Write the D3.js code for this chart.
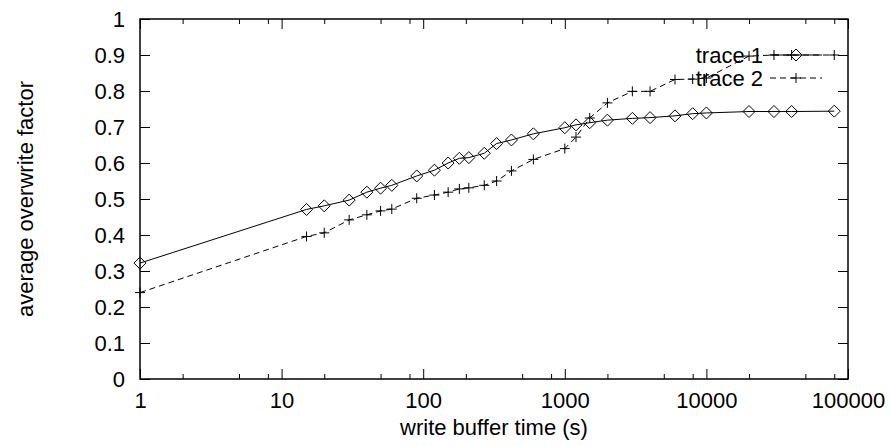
<!DOCTYPE html>
<html>
<head>
<meta charset="utf-8">
<script src="https://cdn.jsdelivr.net/npm/d3@7"></script>
<style>
  body { margin: 0; background: #fff; }
  text { font-family: "Liberation Sans", Arial, sans-serif; }
</style>
</head>
<body>
<script>
// data
const bufferTimes = [1, 15, 20, 30, 40, 50, 60, 90, 120, 150, 180, 210, 270, 330, 420, 600,
  1000, 1200, 1500, 2000, 3000, 4000, 6000, 8000, 10000, 20000, 30000, 40000, 80000];
const trace1 = [0.322, 0.471, 0.481, 0.497, 0.519, 0.530, 0.538, 0.564, 0.580, 0.600, 0.613, 0.615,
  0.627, 0.654, 0.664, 0.681, 0.698, 0.706, 0.712, 0.719, 0.724, 0.726, 0.731, 0.737, 0.739,
  0.743, 0.743, 0.743, 0.744];
const trace2 = [0.240, 0.396, 0.406, 0.442, 0.456, 0.467, 0.472, 0.502, 0.511, 0.519, 0.528, 0.531,
  0.538, 0.550, 0.578, 0.610, 0.640, 0.672, 0.725, 0.767, 0.799, 0.799, 0.832, 0.833, 0.836,
  0.897, 0.900, 0.900, 0.900];
const xMajor = [1, 10, 100, 1000, 10000, 100000];
const xMinor = [2, 5, 8, 20, 50, 80, 200, 500, 800, 2000, 5000, 8000, 20000, 50000, 80000];
const yTicks = [0, 0.1, 0.2, 0.3, 0.4, 0.5, 0.6, 0.7, 0.8, 0.9, 1];
const seriesNames = ['trace 1', 'trace 2'];

const width = 891, height = 446;
const margin = {top: 19, right: 43, bottom: 67, left: 140};

const svg = d3.select('body').append('svg')
  .attr('width', width)
  .attr('height', height);

const x = d3.scaleLog()
  .domain([1, 100000])
  .range([margin.left, width - margin.right]);

const y = d3.scaleLinear()
  .domain([0, 1])
  .range([height - margin.bottom, margin.top]);

const fontSize = 22;

// bottom axis, major ticks + labels
svg.append('g')
  .attr('transform', `translate(0,${y(0)})`)
  .call(d3.axisBottom(x).tickValues(xMajor).tickSize(-10).tickPadding(13).tickFormat(d3.format('d')))
  .call(g => g.select('.domain').remove())
  .call(g => g.selectAll('text').attr('font-size', fontSize).attr('font-family', null).attr('fill', '#000'));

// bottom minor ticks
svg.append('g')
  .attr('transform', `translate(0,${y(0)})`)
  .call(d3.axisBottom(x).tickValues(xMinor).tickSize(-5).tickFormat(''))
  .call(g => g.select('.domain').remove());

// top mirror ticks
svg.append('g')
  .attr('transform', `translate(0,${y(1)})`)
  .call(d3.axisTop(x).tickValues(xMajor).tickSize(-10).tickFormat(''))
  .call(g => g.select('.domain').remove());
svg.append('g')
  .attr('transform', `translate(0,${y(1)})`)
  .call(d3.axisTop(x).tickValues(xMinor).tickSize(-5).tickFormat(''))
  .call(g => g.select('.domain').remove());

// left axis
svg.append('g')
  .attr('transform', `translate(${x(1)},0)`)
  .call(d3.axisLeft(y).tickValues(yTicks).tickSize(-10).tickPadding(15).tickFormat(d3.format('')))
  .call(g => g.select('.domain').remove())
  .call(g => g.selectAll('text').attr('font-size', fontSize).attr('font-family', null).attr('fill', '#000'));

// right mirror ticks
svg.append('g')
  .attr('transform', `translate(${x(100000)},0)`)
  .call(d3.axisRight(y).tickValues(yTicks).tickSize(-10).tickFormat(''))
  .call(g => g.select('.domain').remove());

svg.selectAll('.tick line').attr('stroke', '#000');

// border
svg.append('rect')
  .attr('x', x(1))
  .attr('y', y(1))
  .attr('width', x(100000) - x(1))
  .attr('height', y(0) - y(1))
  .attr('fill', 'none')
  .attr('stroke', '#000')
  .attr('stroke-width', 1.5);

// axis titles
svg.append('text')
  .attr('x', (x(1) + x(100000)) / 2)
  .attr('y', 435)
  .attr('text-anchor', 'middle')
  .attr('font-size', fontSize)
  .text('write buffer time (s)');

svg.append('text')
  .attr('transform', `translate(33,${(y(0) + y(1)) / 2}) rotate(-90)`)
  .attr('text-anchor', 'middle')
  .attr('font-size', fontSize)
  .text('average overwrite factor');

// series
const line = d3.line()
  .x(d => x(d[0]))
  .y(d => y(d[1]));

const pts1 = bufferTimes.map((t, i) => [t, trace1[i]]);
const pts2 = bufferTimes.map((t, i) => [t, trace2[i]]);

const diamond = 'M0,-6L6,0L0,6L-6,0Z';
const plus = 'M-5,0H5M0,-5V5';

function drawSeries(pts, dash, marker) {
  svg.append('path')
    .datum(pts)
    .attr('d', line)
    .attr('fill', 'none')
    .attr('stroke', '#000')
    .attr('stroke-width', 1)
    .attr('stroke-dasharray', dash);
  svg.append('g')
    .selectAll('path')
    .data(pts)
    .join('path')
    .attr('transform', d => `translate(${x(d[0])},${y(d[1])})`)
    .attr('d', marker)
    .attr('fill', 'none')
    .attr('stroke', '#000')
    .attr('stroke-width', 1);
}

drawSeries(pts1, null, diamond);
drawSeries(pts2, '6,4', plus);

// legend
const legend = svg.append('g');
const legendY = [55, 78];
const markers = [diamond, plus];
const dashes = [null, '6,4'];
seriesNames.forEach((name, i) => {
  legend.append('text')
    .attr('x', 763)
    .attr('y', legendY[i])
    .attr('dy', '0.35em')
    .attr('text-anchor', 'end')
    .attr('font-size', fontSize)
    .text(name);
  legend.append('line')
    .attr('x1', 770).attr('x2', 822)
    .attr('y1', legendY[i]).attr('y2', legendY[i])
    .attr('stroke', '#000')
    .attr('stroke-dasharray', dashes[i]);
  legend.append('path')
    .attr('transform', `translate(796,${legendY[i]})`)
    .attr('d', markers[i])
    .attr('fill', 'none')
    .attr('stroke', '#000');
});
</script>
</body>
</html>
